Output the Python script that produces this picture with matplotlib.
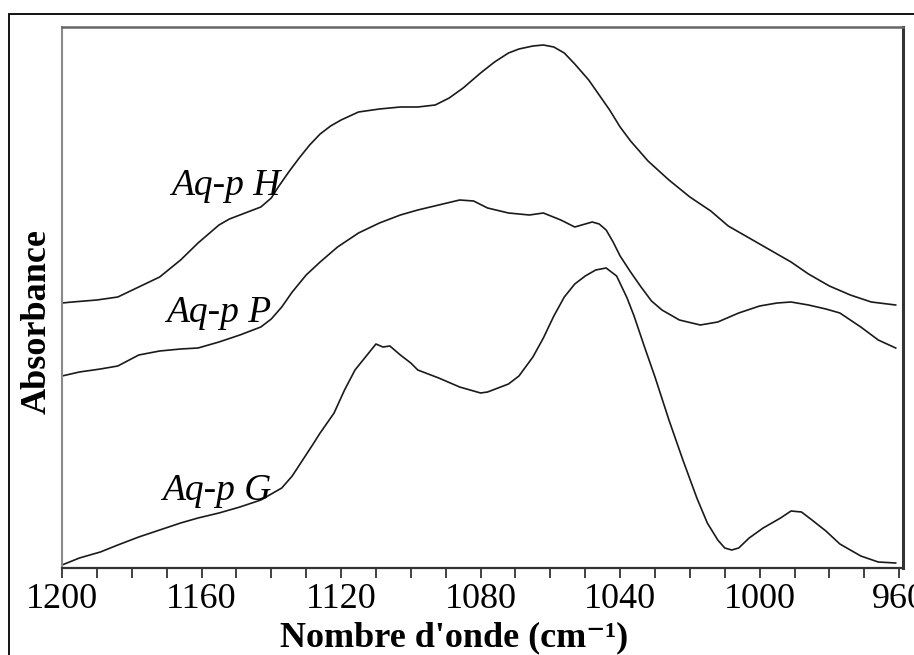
import matplotlib.pyplot as plt
from matplotlib.patches import Rectangle
from matplotlib.ticker import MultipleLocator

plt.rcParams['font.family'] = ['Liberation Serif', 'DejaVu Serif']

# spectrum Aq-p H (wavenumber cm-1, absorbance a.u.)
h_wn = [1200, 1197, 1190, 1184, 1178, 1172, 1166, 1161, 1155, 1152, 1149, 1146,
        1143, 1140, 1138, 1135, 1132, 1129, 1126, 1123, 1120, 1115, 1109, 1103,
        1098, 1093, 1089, 1085, 1080, 1076, 1072, 1069, 1065, 1062, 1059, 1056,
        1053, 1049, 1046, 1043, 1040, 1037, 1032, 1026, 1020, 1014, 1009, 1003,
        997, 991, 986, 980, 974, 968, 961]
h_abs = [265, 266, 268, 271, 281, 291, 308, 325, 343, 349, 353, 357,
         361, 370, 381, 396, 410, 423, 434, 442, 448, 456, 459, 461,
         461, 463, 470, 480, 495, 506, 515, 519, 522, 523, 521, 515,
         504, 488, 473, 458, 441, 427, 407, 388, 371, 357, 342, 330,
         318, 306, 294, 282, 273, 266, 263]

# spectrum Aq-p P
p_wn = [1200, 1195, 1189, 1184, 1178, 1172, 1166, 1161, 1155, 1149, 1143, 1140,
        1137, 1134, 1130, 1126, 1121, 1115, 1109, 1103, 1098, 1092, 1086, 1082,
        1078, 1072, 1066, 1062, 1057, 1053, 1050, 1048, 1046, 1044, 1042, 1040,
        1037, 1034, 1031, 1028, 1023, 1017, 1012, 1006, 1000, 995, 991, 986,
        981, 977, 971, 966, 961]
p_abs = [192, 196, 199, 202, 213, 217, 219, 220, 226, 233, 241, 249,
         261, 276, 293, 306, 321, 335, 345, 353, 358, 363, 368, 367,
         360, 355, 353, 355, 348, 341, 344, 346, 344, 338, 326, 312,
         296, 281, 267, 258, 248, 243, 246, 255, 262, 265, 266, 263,
         259, 255, 241, 228, 220]

# spectrum Aq-p G
g_wn = [1200, 1195, 1189, 1184, 1178, 1172, 1166, 1161, 1155, 1149, 1143, 1140,
        1137, 1134, 1131, 1128, 1126, 1122, 1119, 1116, 1113, 1110, 1108, 1106,
        1103, 1100, 1098, 1092, 1086, 1080, 1078, 1075, 1072, 1069, 1065, 1062,
        1059, 1056, 1053, 1050, 1047, 1044, 1041, 1038, 1036, 1033, 1030, 1026,
        1022, 1018, 1015, 1012, 1010, 1008, 1006, 1003, 999, 994, 991, 988,
        985, 981, 977, 971, 966, 961]
g_abs = [3, 10, 16, 23, 31, 38, 45, 50, 55, 61, 68, 74,
         80, 92, 108, 124, 135, 155, 178, 198, 211, 224, 221, 222,
         213, 205, 198, 190, 181, 175, 176, 180, 184, 192, 211, 230,
         252, 271, 284, 292, 298, 300, 292, 270, 252, 221, 191, 148,
         108, 70, 45, 28, 20, 18, 20, 30, 40, 50, 57, 56,
         48, 37, 24, 12, 6, 5]

labels = ['Aq-p H', 'Aq-p P', 'Aq-p G']
label_pos = [(1137.5, 373), (1140, 246), (1140, 68)]

fig = plt.figure(figsize=(9.14, 6.55), dpi=100)
ax = fig.add_axes([62 / 914, 1 - 568 / 655, 841 / 914, 541 / 655])

for wn, ab in [(h_wn, h_abs), (p_wn, p_abs), (g_wn, g_abs)]:
    ax.plot(wn, ab, color='#1a1a1a', lw=1.2, solid_joinstyle='round')

for txt, (x, y) in zip(labels, label_pos):
    ax.text(x, y, txt, fontsize=27, style='italic', ha='right', va='baseline')

ax.set_xlim(1200, 958.9)
ax.set_ylim(0, 541)
ax.xaxis.set_major_locator(MultipleLocator(40))
ax.xaxis.set_minor_locator(MultipleLocator(10))
ax.tick_params(axis='x', which='both', direction='out', length=7, width=1.3,
               labelsize=26, pad=4, color='#333333')
ax.set_yticks([])

ax.spines['left'].set_color('#8a8a8a')
ax.spines['left'].set_linewidth(1.5)
ax.spines['top'].set_color('#666666')
ax.spines['top'].set_linewidth(1.8)
ax.spines['right'].set_color('#333333')
ax.spines['right'].set_linewidth(2.2)
ax.spines['bottom'].set_color('#333333')
ax.spines['bottom'].set_linewidth(1.6)

fig.text(454 / 914, 1 - 646 / 655, "Nombre d'onde (cm\u207b\u00b9)",
         fontsize=26, fontweight='bold', ha='center', va='baseline')
fig.text(37 / 914, 1 - 322 / 655, 'Absorbance', fontsize=26, fontweight='bold',
         rotation=90, ha='center', va='center')

# outer frame
fig.patches.append(Rectangle((9 / 914, -0.1), 1.2, 1.1 - 14 / 655,
                             transform=fig.transFigure, fill=False,
                             edgecolor='black', lw=1.3))

fig.savefig('out.png', dpi=100)
